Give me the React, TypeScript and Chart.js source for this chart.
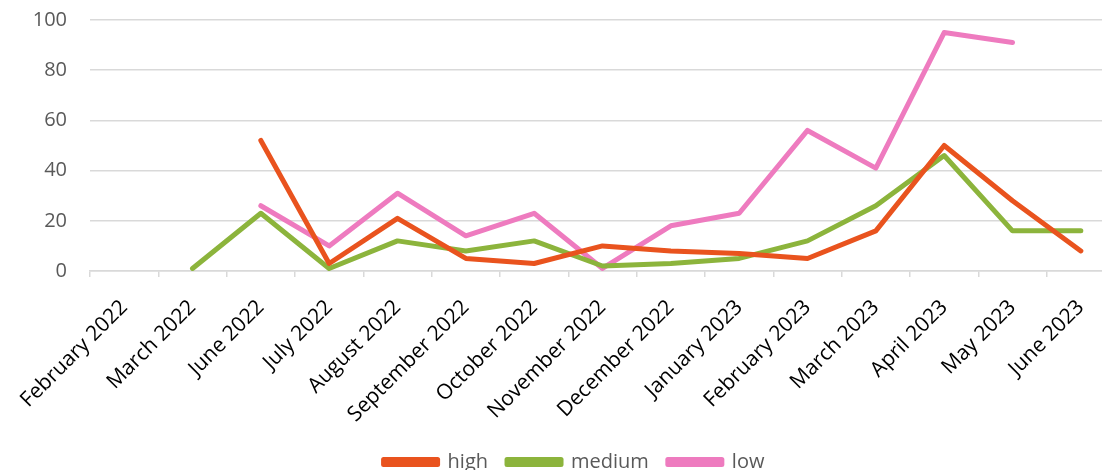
import React, { useEffect, useRef } from "react";
import { Chart, registerables } from "chart.js";

Chart.register(...registerables);

const categories = [
  "February 2022", "March 2022", "June 2022", "July 2022", "August 2022",
  "September 2022", "October 2022", "November 2022", "December 2022",
  "January 2023", "February 2023", "March 2023", "April 2023", "May 2023", "June 2023",
];
const highValues = [null, null, 52, 3, 21, 5, 3, 10, 8, 7, 5, 16, 50, 28, 8];
const mediumValues = [null, 1, 23, 1, 12, 8, 12, 2, 3, 5, 12, 26, 46, 16, 16];
const lowValues = [null, null, 26, 10, 31, 14, 23, 1, 18, 23, 56, 41, 95, 91, null];
const yTicks = [0, 20, 40, 60, 80, 100];

const W = 1148;
const H = 482;

export default function App() {
  const ref = useRef<HTMLCanvasElement | null>(null);
  useEffect(() => {
    document.body.style.margin = "0";
    const ctx = ref.current!;
    const mk = (label: string, data: (number | null)[], color: string) => ({
      label, data, borderColor: color, backgroundColor: color,
      borderWidth: 5, pointRadius: 0, pointHoverRadius: 0,
      borderCapStyle: "round" as const, borderJoinStyle: "round" as const,
      tension: 0, spanGaps: false,
    });
    const chart = new Chart(ctx, {
      type: "line",
      data: {
        labels: categories,
        datasets: [
          mk("high", highValues, "#E9531E"),
          mk("medium", mediumValues, "#8CB43C"),
          mk("low", lowValues, "#EE7BBF"),
        ],
      },
      options: {
        animation: false,
        responsive: false,
        layout: { padding: { top: 20, right: W - 1115, left: 33, bottom: 0 } },
        plugins: {
          tooltip: { enabled: false },
          legend: {
            position: "bottom",
            labels: {
              boxWidth: 54, boxHeight: 5, padding: 19,
              color: "#595959",
              font: { family: "Open Sans", size: 20 },
            },
          },
        },
        scales: {
          x: {
            offset: true,
            afterFit: (s: any) => { s.height = 162; },
            grid: {
              offset: true, drawOnChartArea: false, drawTicks: true,
              tickLength: 6, color: "#D9D9D9", lineWidth: 1.5,
            },
            border: { display: true, color: "#D9D9D9", width: 1.5 },
            ticks: {
              autoSkip: false, maxRotation: 45, minRotation: 45,
              color: "#000000", font: { family: "Open Sans", size: 21 }, padding: 18,
            },
          },
          y: {
            min: 0, max: 100,
            afterFit: (s: any) => { s.width = 57; s.paddingTop = 0; s.paddingBottom = 0; },
            afterBuildTicks: (s: any) => { s.ticks = yTicks.map((v) => ({ value: v })); },
            grid: { color: "#D9D9D9", lineWidth: 1.5, drawTicks: false },
            border: { display: false },
            ticks: {
              color: "#595959", font: { family: "Open Sans", size: 20 }, padding: 23,
            },
          },
        },
      },
    });
    return () => chart.destroy();
  }, []);
  return (
    <div style={{ width: 1102, height: 470, overflow: "hidden", background: "#fff" }}>
      <canvas ref={ref} width={W} height={H} style={{ width: W, height: H, display: "block" }} />
    </div>
  );
}
